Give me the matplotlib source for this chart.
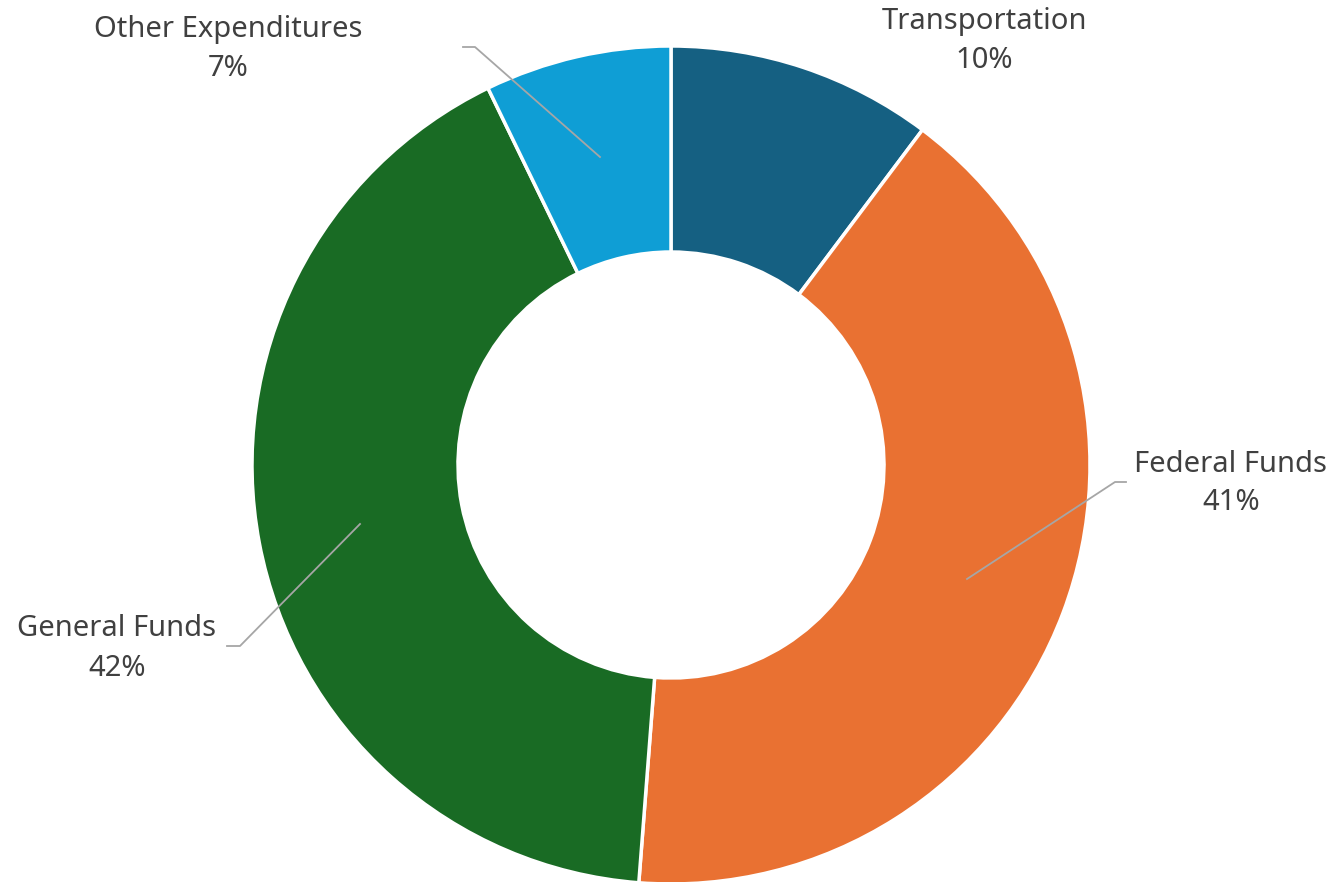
import matplotlib
matplotlib.use('Agg')
from matplotlib import pyplot as plt

categories = ['Transportation', 'Federal Funds', 'General Funds', 'Other Expenditures']
shares = [10.25, 41.0, 41.6, 7.2]
share_labels = ['10%', '41%', '42%', '7%']
colors = ['#156082', '#E97132', '#196B24', '#0F9ED5']

W, H = 1337, 882
fig = plt.figure(figsize=(W / 100, H / 100), dpi=100)
ax = fig.add_axes([0, 0, 1, 1])

# pixel y -> data y
def py(y):
    return H - y

cx, cy, r_out, r_in = 671, py(465), 419, 213
ax.pie(shares, colors=colors, startangle=90, counterclock=False,
       center=(cx, cy), radius=r_out,
       wedgeprops=dict(width=r_out - r_in, edgecolor='white', linewidth=2.5))

# pie resets the limits, so set them afterwards
ax.set_xlim(0, W)
ax.set_ylim(0, H)
ax.set_aspect('equal')
ax.axis('off')

# label positions (pixel coords) and leader lines
label_pos = {
    'Transportation': (984, 21),
    'Federal Funds': (1231, 464),
    'General Funds': (117, 629),
    'Other Expenditures': (228, 30),
}
leaders = {
    'Federal Funds': [(967, 579), (1115, 482), (1126, 482)],
    'General Funds': [(360, 524), (240, 646), (227, 646)],
    'Other Expenditures': [(600, 157), (475, 47), (463, 47)],
}

for name, pct in zip(categories, share_labels):
    x, y = label_pos[name]
    ax.text(x, py(y), name, ha='center', va='center', fontsize=21,
            color='#404040', family='Noto Sans')
    ax.text(x, py(y + 39), pct, ha='center', va='center', fontsize=21,
            color='#404040', family='Noto Sans')
    if name in leaders:
        pts = leaders[name]
        ax.plot([p[0] for p in pts], [py(p[1]) for p in pts],
                color='#A6A6A6', linewidth=1.3)

fig.savefig('out.png', dpi=100)
